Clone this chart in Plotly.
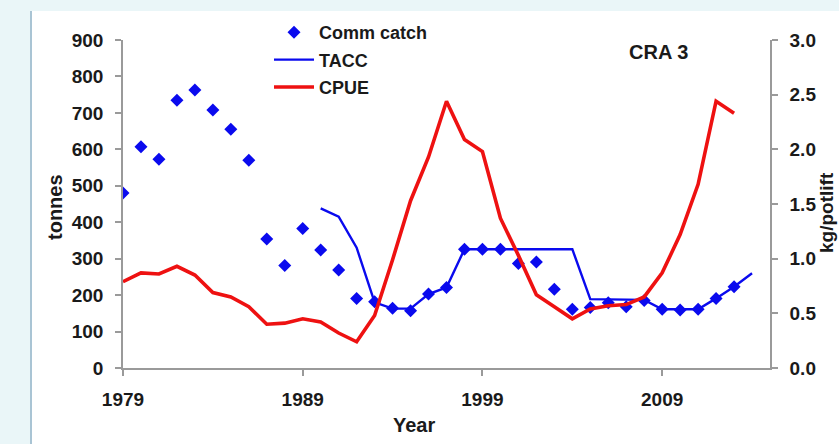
import plotly.graph_objects as go

# ---------------- data ----------------
catch_years = list(range(1979, 2014))
catch_tonnes = [480, 607, 573, 735, 763, 708, 655, 570, 354, 281, 383, 324, 269, 191, 182,
                164, 157, 203, 221, 326, 326, 326, 287, 291, 216, 161, 166, 179, 168, 185,
                161, 159, 161, 191, 223]

tacc_years = list(range(1990, 2015))
tacc_tonnes = [438, 415, 330, 180, 163, 163, 203, 221, 326, 326, 326, 326, 326, 326, 326,
               189, 189, 189, 187, 161, 160, 161, 191, 223, 260]

cpue_years = list(range(1979, 2014))
cpue_kg = [0.79, 0.87, 0.86, 0.93, 0.85, 0.69, 0.65, 0.56, 0.40, 0.41, 0.45, 0.42, 0.32,
           0.24, 0.48, 0.99, 1.53, 1.93, 2.44, 2.09, 1.98, 1.37, 1.03, 0.67, 0.56, 0.45,
           0.54, 0.57, 0.58, 0.65, 0.87, 1.22, 1.68, 2.44, 2.33]

x_tick_vals = [1979, 1989, 1999, 2009]
y_tick_vals = list(range(0, 901, 100))
y2_tick_vals = [0.0, 0.5, 1.0, 1.5, 2.0, 2.5, 3.0]

# ---------------- layout geometry ----------------
W_FIG, H_FIG = 839, 444
L, R, T, B = 123, 770, 40, 368
PW, PH = R - L, B - T


def px_x(p):
    return (p - L) / PW


def px_y(p):
    return (B - p) / PH


BLUE = "#0a0aee"
RED = "#ee1111"
AX = "#9a9a9a"
TXT = "#1a1a1a"
FONT = "Liberation Sans"

fig = go.Figure()

fig.add_trace(go.Scatter(
    x=catch_years, y=catch_tonnes, mode="markers", name="Comm catch",
    marker=dict(symbol="diamond", size=10, color=BLUE, line=dict(width=0)),
    legendgroup="a", legendrank=1))

fig.add_trace(go.Scatter(
    x=tacc_years, y=tacc_tonnes, mode="lines", name="TACC",
    line=dict(color=BLUE, width=2.4), legendgroup="b", legendrank=2))

fig.add_trace(go.Scatter(
    x=cpue_years, y=cpue_kg, mode="lines", name="CPUE", yaxis="y2",
    line=dict(color=RED, width=3.6), legendgroup="c", legendrank=3))

tickfont = dict(family=FONT, size=19, color=TXT, weight="bold")

fig.update_layout(
    width=W_FIG, height=H_FIG,
    margin=dict(l=L, r=W_FIG - R, t=T, b=H_FIG - B, pad=0),
    paper_bgcolor="white", plot_bgcolor="white",
    showlegend=True,
    legend=dict(x=px_x(269), y=px_y(14), xanchor="left", yanchor="top",
                bgcolor="rgba(0,0,0,0)", tracegroupgap=1,
                font=dict(family=FONT, size=18, color=TXT, weight="bold"),
                itemwidth=40),
    xaxis=dict(range=[1979, 2015], tickvals=x_tick_vals, showgrid=False, zeroline=False,
               showline=True, linecolor=AX, linewidth=1.5, ticks="outside", ticklen=6,
               tickcolor=AX, tickwidth=1.5, tickfont=tickfont, ticklabelstandoff=7),
    yaxis=dict(range=[0, 900], tickvals=y_tick_vals, showgrid=False, zeroline=False,
               showline=True, linecolor=AX, linewidth=1.5, ticks="outside", ticklen=6,
               tickcolor=AX, tickwidth=1.5, tickfont=tickfont, ticklabelstandoff=8),
    yaxis2=dict(range=[0, 3], tickvals=y2_tick_vals, tickformat=".1f", overlaying="y",
                side="right", showgrid=False, zeroline=False, showline=True,
                linecolor=AX, linewidth=1.5, ticks="outside", ticklen=6, tickcolor=AX,
                tickwidth=1.5, tickfont=tickfont, ticklabelstandoff=8),
)

# background framing (light cyan strips, thin left rule)
BG = "#eaf6f8"
fig.add_shape(type="rect", xref="paper", yref="paper", layer="below",
              x0=px_x(0), x1=px_x(W_FIG), y0=px_y(0), y1=px_y(11),
              fillcolor=BG, line=dict(width=0))
fig.add_shape(type="rect", xref="paper", yref="paper", layer="below",
              x0=px_x(0), x1=px_x(30), y0=px_y(0), y1=px_y(H_FIG),
              fillcolor=BG, line=dict(width=0))
fig.add_shape(type="line", xref="paper", yref="paper", layer="below",
              x0=px_x(31), x1=px_x(31), y0=px_y(11), y1=px_y(H_FIG),
              line=dict(color="#a9c4d4", width=2))

fig.add_annotation(text="tonnes", xref="paper", yref="paper", x=px_x(55), y=px_y(207),
                   showarrow=False, textangle=-90,
                   font=dict(family=FONT, size=20, color=TXT, weight="bold"),
                   xanchor="center", yanchor="middle")
fig.add_annotation(text="kg/potlift", xref="paper", yref="paper", x=px_x(826), y=px_y(213),
                   showarrow=False, textangle=-90,
                   font=dict(family=FONT, size=19, color=TXT, weight="bold"),
                   xanchor="center", yanchor="middle")
fig.add_annotation(text="Year", xref="paper", yref="paper", x=px_x(414), y=px_y(425),
                   showarrow=False, font=dict(family=FONT, size=20, color=TXT, weight="bold"),
                   xanchor="center", yanchor="middle")
fig.add_annotation(text="CRA 3", xref="paper", yref="paper", x=px_x(658), y=px_y(52),
                   showarrow=False, font=dict(family=FONT, size=20, color=TXT, weight="bold"),
                   xanchor="center", yanchor="middle")

fig.write_html("out.html", config={"displayModeBar": False},
               post_script="document.body.style.margin='0px';"
                           "document.body.style.overflow='hidden';")
